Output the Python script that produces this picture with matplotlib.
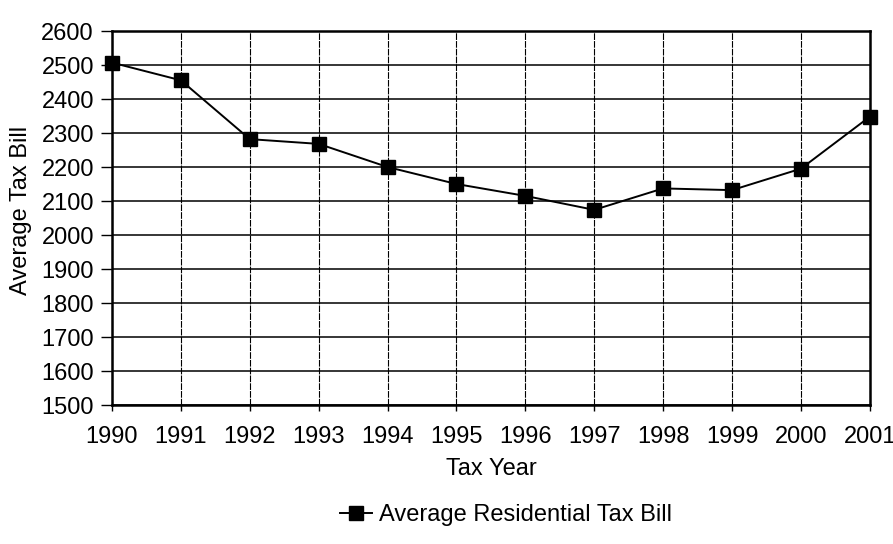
import matplotlib
matplotlib.use("Agg")
import matplotlib.pyplot as plt

# values
years = [1990, 1991, 1992, 1993, 1994, 1995, 1996, 1997, 1998, 1999, 2000, 2001]
avg_bill = [2507, 2455, 2282, 2268, 2200, 2150, 2115, 2074, 2137, 2132, 2195, 2348]
y_ticks = list(range(1500, 2700, 100))

plt.rcParams["font.family"] = ["Liberation Sans", "DejaVu Sans"]

fig = plt.figure(figsize=(8.93, 5.44), dpi=100)
ax = fig.add_axes([0.1254, 0.2555, 0.8486, 0.6875])

ax.plot(years, avg_bill, color="black", linewidth=1.4, marker="s",
        markersize=10, markerfacecolor="black", markeredgecolor="black",
        label="Average Residential Tax Bill", zorder=3, clip_on=False)

ax.set_xlim(years[0], years[-1])
ax.set_ylim(y_ticks[0], y_ticks[-1])
ax.set_xticks(years)
ax.set_yticks(y_ticks)
ax.tick_params(axis="both", labelsize=17, color="black", width=1)
ax.tick_params(axis="y", length=8, pad=5)
ax.tick_params(axis="x", length=4, pad=11)

ax.grid(axis="y", color="black", linewidth=1.1)
ax.grid(axis="x", color="black", linewidth=0.8, linestyle=(0, (6, 1)))

for side in ax.spines.values():
    side.set_linewidth(1.8)
    side.set_color("black")

ax.set_xlabel("Tax Year", fontsize=17, labelpad=7)
ax.set_ylabel("Average Tax Bill", fontsize=17, labelpad=0)
ax.yaxis.set_label_coords(-0.106, 0.52)

fig.legend(loc="center", bbox_to_anchor=(0.567, 0.053), frameon=False,
           fontsize=17, handlelength=1.35, handletextpad=0.3)

fig.savefig("out.png", dpi=100)
plt.close(fig)
